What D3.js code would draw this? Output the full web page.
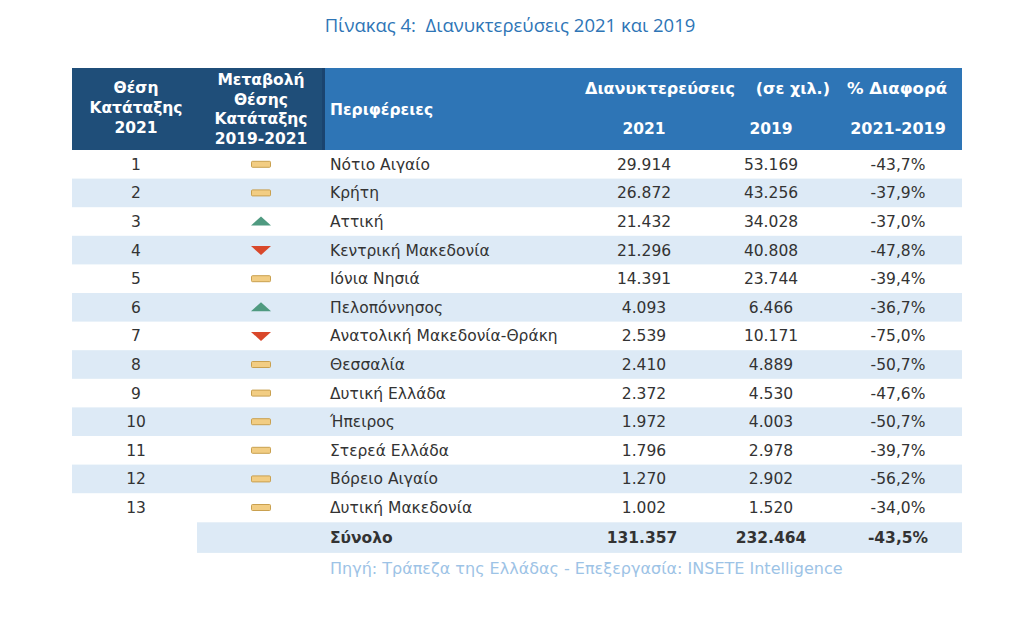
<!DOCTYPE html>
<html><head><meta charset="utf-8">
<script src="https://cdn.jsdelivr.net/npm/d3@7"></script>
<style>body{margin:0;background:#fff}svg{display:block}text{white-space:pre}</style>
</head><body>
<script>
const ranks = [1,2,3,4,5,6,7,8,9,10,11,12,13];
const changes = ["same","same","up","down","same","up","down","same","same","same","same","same","same"];
const regions = ["Νότιο Αιγαίο","Κρήτη","Αττική","Κεντρική Μακεδονία","Ιόνια Νησιά","Πελοπόννησος","Ανατολική Μακεδονία-Θράκη","Θεσσαλία","Δυτική Ελλάδα","Ήπειρος","Στερεά Ελλάδα","Βόρειο Αιγαίο","Δυτική Μακεδονία"];
const nights2021 = [29914,26872,21432,21296,14391,4093,2539,2410,2372,1972,1796,1270,1002];
const nights2019 = [53169,43256,34028,40808,23744,6466,10171,4889,4530,4003,2978,2902,1520];
const diffPct = [-43.7,-37.9,-37.0,-47.8,-39.4,-36.7,-75.0,-50.7,-47.6,-50.7,-39.7,-56.2,-34.0];
const totalLabel = "Σύνολο";
const total2021 = 131357, total2019 = 232464, totalDiff = -43.5;
const title = "Πίνακας 4:  Διανυκτερεύσεις 2021 και 2019";
const source = "Πηγή: Τράπεζα της Ελλάδας - Επεξεργασία: INSETE Intelligence";

const W = 1024, H = 620;
const svg = d3.select("body").append("svg").attr("width", W).attr("height", H);
const font = "'DejaVu Sans', Verdana, sans-serif";
const loc = d3.formatLocale({decimal: ",", thousands: ".", grouping: [3], currency: ["", "€"], minus: "-"});
const fNum = loc.format(",d"), fPct = v => loc.format(".1f")(v) + "%";

const left = 72, right = 962, headTop = 68, headBot = 150;
const rowH = 28.6;
const y = d3.scaleBand().domain(d3.range(ranks.length + 1)).range([headBot, headBot + rowH * (ranks.length + 1)]);

// title
svg.append("text").attr("x", 510).attr("y", 32).attr("text-anchor", "middle")
  .attr("font-family", "'Open Sans', sans-serif").attr("font-size", 18.5).attr("fill", "#2e75b6").text(title);

// header
svg.append("rect").attr("x", left).attr("y", headTop).attr("width", 252).attr("height", headBot - headTop).attr("fill", "#1f4e79");
svg.append("rect").attr("x", 324).attr("y", headTop).attr("width", right - 324).attr("height", headBot - headTop).attr("fill", "#2e75b6");
svg.append("rect").attr("x", 322).attr("y", headTop).attr("width", 3).attr("height", headBot - headTop).attr("fill", "#1a4470");

const hdr = svg.append("g").attr("font-family", font).attr("font-weight", "bold").attr("font-size", 15.5).attr("fill", "#fff");
function lines(x, ys, arr, anchor, size) {
  arr.forEach((t, i) => hdr.append("text").attr("x", x).attr("y", ys[i]).attr("text-anchor", anchor || "middle")
    .attr("font-size", size || null).text(t));
}
lines(136, [93, 113, 133], ["Θέση", "Κατάταξης", "2021"]);
lines(261, [85, 105, 124, 144], ["Μεταβολή", "Θέσης", "Κατάταξης", "2019-2021"]);
lines(330, [115], ["Περιφέρειες"], "start");
lines(585, [94], ["Διανυκτερεύσεις"], "start", 16);
lines(830, [94], ["(σε χιλ.)"], "end", 16);
lines(897, [94], ["% Διαφορά"], "middle", 16.5);
lines(644, [134], ["2021"]);
lines(771, [134], ["2019"]);
lines(898, [134], ["2021-2019"], "middle", 16);

// rows
const rows = svg.append("g").attr("font-family", font).attr("font-size", 15.5).attr("fill", "#333");
ranks.forEach((r, i) => {
  const y0 = y(i), cy = y0 + y.bandwidth() / 2;
  if (i % 2 === 1) rows.append("rect").attr("x", left).attr("y", y0).attr("width", right - left).attr("height", y.bandwidth()).attr("fill", "#ddeaf6");
  const ty = cy + 5.5;
  rows.append("text").attr("x", 136).attr("y", ty).attr("text-anchor", "middle").text(r);
  rows.append("text").attr("x", 330).attr("y", ty).text(regions[i]);
  rows.append("text").attr("x", 644).attr("y", ty).attr("text-anchor", "middle").text(fNum(nights2021[i]));
  rows.append("text").attr("x", 771).attr("y", ty).attr("text-anchor", "middle").text(fNum(nights2019[i]));
  rows.append("text").attr("x", 898).attr("y", ty).attr("text-anchor", "middle").text(fPct(diffPct[i]));
  const c = changes[i], ix = 261;
  if (c === "same") {
    rows.append("rect").attr("x", ix - 9.5).attr("y", cy - 3).attr("width", 19).attr("height", 6).attr("rx", 1)
      .attr("fill", "#f2cd83").attr("stroke", "#c9a04f").attr("stroke-width", 1);
  } else if (c === "up") {
    rows.append("path").attr("d", `M${ix - 10},${cy + 4}L${ix},${cy - 5}L${ix + 10},${cy + 4}Z`).attr("fill", "#4f9a80");
  } else {
    rows.append("path").attr("d", `M${ix - 10},${cy - 4}L${ix},${cy + 5}L${ix + 10},${cy - 4}Z`).attr("fill", "#d9482b");
  }
});
// total
const ti = ranks.length, ty0 = y(ti);
rows.append("rect").attr("x", 197).attr("y", ty0 + 0.5).attr("width", right - 197).attr("height", y.bandwidth() + 2).attr("fill", "#ddeaf6");
const tcy = ty0 + y.bandwidth() / 2 + 7;
const tot = rows.append("g").attr("font-weight", "bold");
tot.append("text").attr("x", 330).attr("y", tcy).text(totalLabel);
tot.append("text").attr("x", 642).attr("y", tcy).attr("text-anchor", "middle").text(fNum(total2021));
tot.append("text").attr("x", 771).attr("y", tcy).attr("text-anchor", "middle").text(fNum(total2019));
tot.append("text").attr("x", 898).attr("y", tcy).attr("text-anchor", "middle").text(fPct(totalDiff));

// source
svg.append("text").attr("x", 330).attr("y", 574).attr("font-family", font).attr("font-size", 16)
  .attr("fill", "#9dc3e6").text(source);
</script>
</body></html>
